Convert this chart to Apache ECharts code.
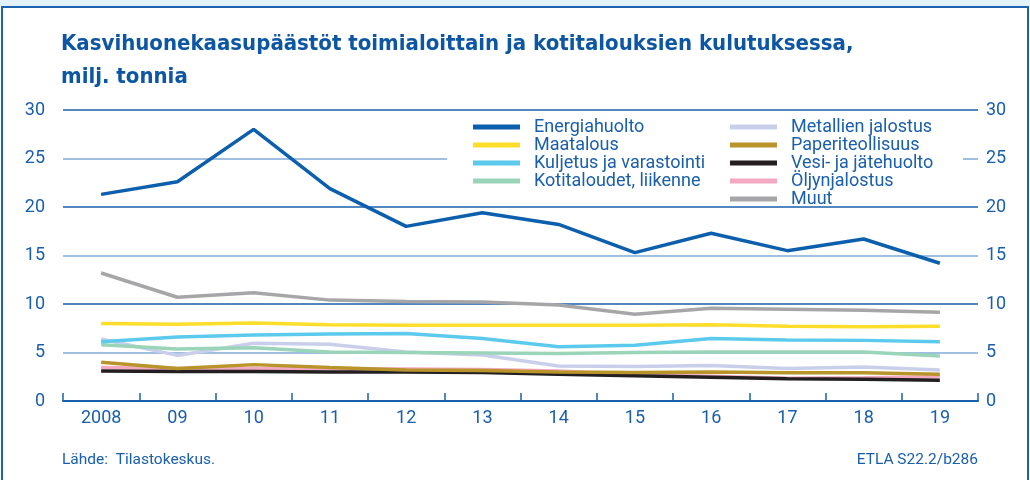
<!DOCTYPE html>
<html>
<head>
<meta charset="utf-8">
<script src="https://cdn.jsdelivr.net/npm/echarts@6/dist/echarts.min.js"></script>
<style>
  html, body { margin: 0; padding: 0; background: #fff; }
  #wrap { position: relative; width: 1030px; height: 480px; overflow: hidden; }
  #chart { position: absolute; left: 0; top: 0; width: 1030px; height: 480px; }
  #band { position: absolute; left: 0; top: 0; width: 1030px; height: 6px; background: #e2f2f9; }
  #frame { position: absolute; left: 1px; top: 6px; right: 1px; bottom: -10px;
           border: 2px solid #1b63ae; pointer-events: none; }
</style>
</head>
<body>
<div id="wrap">
  <div id="chart"></div>
  <div id="band"></div>
  <div id="frame"></div>
</div>
<script>
// vuodet
const years = ["2008", "09", "10", "11", "12", "13", "14", "15", "16", "17", "18", "19"];

// milj. tonnia, luettu kuvasta
const energiahuolto = [21.3, 22.6, 28.0, 21.9, 18.0, 19.4, 18.2, 15.3, 17.3, 15.5, 16.7, 14.2];
const maatalous = [8.0, 7.9, 8.05, 7.85, 7.8, 7.8, 7.8, 7.8, 7.85, 7.7, 7.65, 7.7];
const kuljetus = [6.1, 6.6, 6.8, 6.9, 6.95, 6.45, 5.6, 5.75, 6.45, 6.3, 6.25, 6.1];
const kotitaloudet = [5.8, 5.35, 5.5, 5.05, 5.0, 4.95, 4.9, 5.0, 5.05, 5.05, 5.05, 4.65];
const metallit = [6.4, 4.7, 5.95, 5.85, 5.05, 4.75, 3.6, 3.55, 3.65, 3.35, 3.5, 3.2];
const paperi = [4.0, 3.35, 3.75, 3.45, 3.2, 3.15, 3.0, 2.95, 3.0, 2.9, 2.9, 2.75];
const vesi = [3.1, 3.05, 3.05, 3.0, 3.0, 2.95, 2.75, 2.6, 2.45, 2.3, 2.25, 2.15];
const oljy = [3.45, 3.35, 3.35, 3.3, 3.3, 3.25, 3.1, 2.7, 2.55, 2.35, 2.4, 2.5];
const muut = [13.2, 10.7, 11.15, 10.4, 10.25, 10.2, 9.9, 8.95, 9.55, 9.45, 9.35, 9.15];

const blue = "#1a5fab";
const font = "Roboto, 'Liberation Sans', sans-serif";

function line(name, data, color) {
  return {
    name: name,
    type: "line",
    data: data,
    symbol: "none",
    smooth: false,
    lineStyle: { color: color, width: 3.5 },
    itemStyle: { color: color }
  };
}

const chart = echarts.init(document.getElementById("chart"));
chart.setOption({
  animation: false,
  title: {
    text: "Kasvihuonekaasupäästöt toimialoittain ja kotitalouksien kulutuksessa,\nmilj. tonnia",
    left: 61,
    top: 28,
    padding: 0,
    textStyle: {
      color: "#0c56a4",
      fontFamily: "'Liberation Sans Narrow', 'DejaVu Sans Condensed', sans-serif",
      fontWeight: "bold",
      fontSize: 22,
      lineHeight: 33
    }
  },
  grid: { left: 63, right: 52, top: 110, bottom: 79 },
  legend: [
    {
      orient: "vertical",
      left: 473,
      top: 118,
      padding: 0,
      itemGap: 0,
      itemWidth: 47,
      itemHeight: 5,
      icon: "rect",
      textStyle: { color: blue, fontFamily: font, fontSize: 18, lineHeight: 17, padding: [0, 0, 0, 9] },
      data: ["Energiahuolto", "Maatalous", "Kuljetus ja varastointi", "Kotitaloudet, liikenne"]
    },
    {
      orient: "vertical",
      left: 730,
      top: 118,
      padding: 0,
      itemGap: 0,
      itemWidth: 47,
      itemHeight: 5,
      icon: "rect",
      textStyle: { color: blue, fontFamily: font, fontSize: 18, lineHeight: 17, padding: [0, 0, 0, 9] },
      data: ["Metallien jalostus", "Paperiteollisuus", "Vesi- ja jätehuolto", "Öljynjalostus", "Muut"]
    }
  ],
  xAxis: {
    type: "category",
    data: years,
    boundaryGap: true,
    axisLine: { lineStyle: { color: blue, width: 2 } },
    axisTick: { show: true, inside: true, length: 8, lineStyle: { color: blue, width: 1.5 } },
    axisLabel: { color: blue, fontFamily: font, fontSize: 18, margin: 8 }
  },
  yAxis: [
    {
      type: "value",
      min: 0,
      max: 30,
      interval: 5,
      axisLine: { show: false },
      axisTick: { show: false },
      axisLabel: { color: blue, fontFamily: font, fontSize: 18, margin: 18 },
      splitLine: { lineStyle: { color: ["#1a5fab", "#7eaad6"], width: 1.5 } }
    },
    {
      type: "value",
      min: 0,
      max: 30,
      interval: 5,
      position: "right",
      axisLine: { show: false },
      axisTick: { show: false },
      axisLabel: { color: blue, fontFamily: font, fontSize: 18, margin: 8 },
      splitLine: { show: false }
    }
  ],
  graphic: [
    // valkoinen tausta selitteen alle
    {
      type: "rect",
      z: 3,
      shape: { x: 447, y: 112, width: 516, height: 94 },
      style: { fill: "#fff" }
    },
    {
      type: "text",
      left: 62,
      top: 452,
      style: { text: "Lähde:  Tilastokeskus.", fill: blue, font: "15.5px " + font }
    },
    {
      type: "text",
      right: 52,
      top: 452,
      style: { text: "ETLA S22.2/b286", fill: blue, font: "15.5px " + font }
    }
  ],
  series: [
    line("Muut", muut, "#a6a6a8"),
    line("Öljynjalostus", oljy, "#f2a9c1"),
    line("Vesi- ja jätehuolto", vesi, "#231f20"),
    line("Paperiteollisuus", paperi, "#b8942a"),
    line("Metallien jalostus", metallit, "#c9cfea"),
    line("Kotitaloudet, liikenne", kotitaloudet, "#9ad4b9"),
    line("Kuljetus ja varastointi", kuljetus, "#5ccaec"),
    line("Maatalous", maatalous, "#fedd2b"),
    line("Energiahuolto", energiahuolto, "#0b5fad")
  ]
});
</script>
</body>
</html>
